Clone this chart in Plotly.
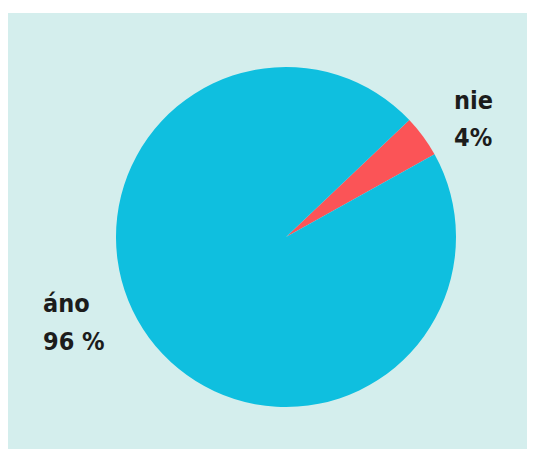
import plotly.graph_objects as go

# Data
labels = ["nie", "áno"]
values = [4, 96]
pct_texts = ["4%", "96 %"]
colors = ["#fb5457", "#0fbfdf"]

W, H = 535, 449
OFF = 8  # page body margin offset
BG_PANEL = "#d4eeed"
FONT = "DejaVu Sans Condensed, sans-serif"

def px(x):
    return (x - OFF) / W

def py(y):
    return 1 - (y - OFF) / H

fig = go.Figure()
fig.add_trace(go.Pie(
    labels=labels,
    values=values,
    marker=dict(colors=colors, line=dict(width=0)),
    sort=False,
    direction="clockwise",
    rotation=46.5,
    textinfo="none",
    hoverinfo="label+percent",
    showlegend=False,
    domain=dict(x=[px(116), px(456)], y=[py(407), py(67)]),
))

# label positions (pixel): (left x, y of name, y of pct)
label_pos = {"nie": (452, 100, 138), "áno": (41, 303, 341)}
annotations = []
for lab, pt in zip(labels, pct_texts):
    x, y1, y2 = label_pos[lab]
    for txt, yy in ((lab, y1), (pt, y2)):
        annotations.append(dict(
            text="<b>%s</b>" % txt, x=px(x), y=py(yy), xref="paper", yref="paper",
            xanchor="left", yanchor="middle", showarrow=False,
            font=dict(family=FONT, size=25, color="#1c1c1c"),
        ))

fig.update_layout(
    width=W, height=H,
    margin=dict(l=0, r=0, t=0, b=0),
    paper_bgcolor="white",
    plot_bgcolor="white",
    shapes=[dict(type="rect", xref="paper", yref="paper",
                 x0=0, x1=1, y0=0, y1=py(13),
                 fillcolor=BG_PANEL, line=dict(width=0), layer="below")],
    annotations=annotations,
)

fig.write_html("out.html")
